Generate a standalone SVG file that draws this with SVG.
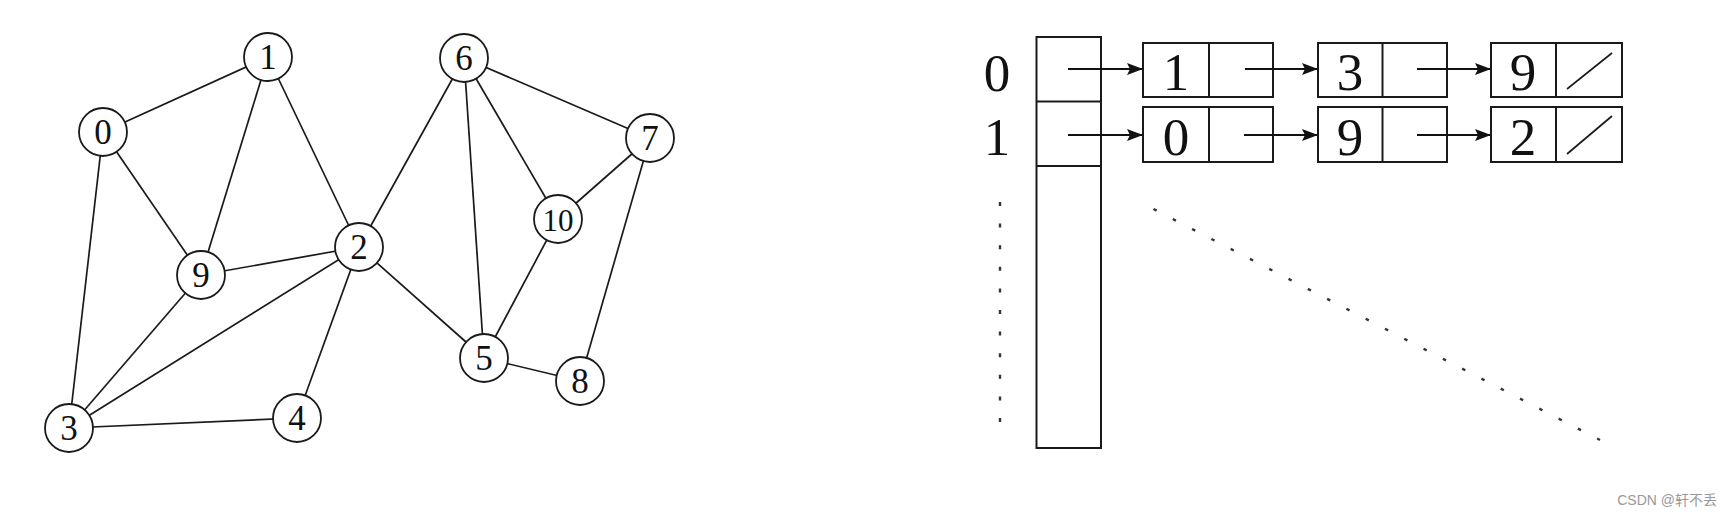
<svg xmlns="http://www.w3.org/2000/svg" width="1733" height="515" viewBox="0 0 1733 515">
<style>
.edge{stroke:#1a1a1a;stroke-width:1.7;fill:none}
.node circle{fill:#fff;stroke:#1a1a1a;stroke-width:1.8}
.node text{font-family:"Liberation Serif","DejaVu Serif",serif;font-size:35px;text-anchor:middle;fill:#111}
.box{fill:#fff;stroke:#1a1a1a;stroke-width:2}
.big{font-family:"Liberation Serif","DejaVu Serif",serif;font-size:53px;text-anchor:middle;fill:#111}
.arr{stroke:#111;stroke-width:2;fill:none}
.dot{stroke:#333;stroke-width:2.4;fill:none}
</style>
<defs>
<marker id="ah" markerUnits="userSpaceOnUse" markerWidth="16" markerHeight="12" refX="15" refY="6" orient="auto">
<path d="M0,0 L16,6 L0,12 L3,6 Z" fill="#111"/>
</marker>
</defs>
<rect width="1733" height="515" fill="#fff"/>
<g id="edges">
<line class="edge" x1="103" y1="132" x2="268" y2="57"/>
<line class="edge" x1="268" y1="57" x2="201" y2="275"/>
<line class="edge" x1="268" y1="57" x2="359" y2="247"/>
<line class="edge" x1="103" y1="132" x2="201" y2="275"/>
<line class="edge" x1="103" y1="132" x2="69" y2="428"/>
<line class="edge" x1="201" y1="275" x2="359" y2="247"/>
<line class="edge" x1="201" y1="275" x2="69" y2="428"/>
<line class="edge" x1="359" y1="247" x2="69" y2="428"/>
<line class="edge" x1="359" y1="247" x2="297" y2="418"/>
<line class="edge" x1="69" y1="428" x2="297" y2="418"/>
<line class="edge" x1="359" y1="247" x2="464" y2="58"/>
<line class="edge" x1="359" y1="247" x2="484" y2="358"/>
<line class="edge" x1="464" y1="58" x2="484" y2="358"/>
<line class="edge" x1="464" y1="58" x2="558" y2="219"/>
<line class="edge" x1="464" y1="58" x2="650" y2="138"/>
<line class="edge" x1="650" y1="138" x2="558" y2="219"/>
<line class="edge" x1="558" y1="219" x2="484" y2="358"/>
<line class="edge" x1="650" y1="138" x2="580" y2="381"/>
<line class="edge" x1="484" y1="358" x2="580" y2="381"/>
</g>
<g id="n0" class="node"><circle cx="103" cy="132" r="24"/><text x="103" y="144">0</text></g>
<g id="n1" class="node"><circle cx="268" cy="57" r="24"/><text x="268" y="69">1</text></g>
<g id="n2" class="node"><circle cx="359" cy="247" r="24"/><text x="359" y="259">2</text></g>
<g id="n3" class="node"><circle cx="69" cy="428" r="24"/><text x="69" y="440">3</text></g>
<g id="n4" class="node"><circle cx="297" cy="418" r="24"/><text x="297" y="430">4</text></g>
<g id="n5" class="node"><circle cx="484" cy="358" r="24"/><text x="484" y="370">5</text></g>
<g id="n6" class="node"><circle cx="464" cy="58" r="24"/><text x="464" y="70">6</text></g>
<g id="n7" class="node"><circle cx="650" cy="138" r="24"/><text x="650" y="150">7</text></g>
<g id="n8" class="node"><circle cx="580" cy="381" r="24"/><text x="580" y="393">8</text></g>
<g id="n9" class="node"><circle cx="201" cy="275" r="24"/><text x="201" y="287">9</text></g>
<g id="n10" class="node"><circle cx="558" cy="219" r="24"/><text x="558" y="231" style="font-size:31px">10</text></g>

<g id="labels">
<text class="big" x="997" y="91">0</text>
<text class="big" x="997" y="155">1</text>
</g>
<g id="array">
<rect class="box" x="1036.5" y="37" width="64.5" height="411"/>
<line class="edge" style="stroke-width:2" x1="1036.5" y1="101.5" x2="1101" y2="101.5"/>
<line class="edge" style="stroke-width:2" x1="1036.5" y1="166" x2="1101" y2="166"/>
</g>
<g id="l0a"><rect class="box" x="1143" y="43" width="130" height="54"/><line class="edge" style="stroke-width:2" x1="1209" y1="43" x2="1209" y2="97"/><text class="big" x="1176" y="90">1</text></g>
<g id="l0b"><rect class="box" x="1318" y="43" width="129" height="54"/><line class="edge" style="stroke-width:2" x1="1382.5" y1="43" x2="1382.5" y2="97"/><text class="big" x="1350" y="90">3</text></g>
<g id="l0c"><rect class="box" x="1491" y="43" width="131" height="54"/><line class="edge" style="stroke-width:2" x1="1556" y1="43" x2="1556" y2="97"/><text class="big" x="1523" y="90">9</text><line class="edge" x1="1567" y1="89" x2="1612" y2="53"/></g>
<g id="l1a"><rect class="box" x="1143" y="107" width="130" height="55"/><line class="edge" style="stroke-width:2" x1="1209" y1="107" x2="1209" y2="162"/><text class="big" x="1176" y="155">0</text></g>
<g id="l1b"><rect class="box" x="1318" y="107" width="129" height="55"/><line class="edge" style="stroke-width:2" x1="1382.5" y1="107" x2="1382.5" y2="162"/><text class="big" x="1350" y="155">9</text></g>
<g id="l1c"><rect class="box" x="1491" y="107" width="131" height="55"/><line class="edge" style="stroke-width:2" x1="1556" y1="107" x2="1556" y2="162"/><text class="big" x="1523" y="155">2</text><line class="edge" x1="1567" y1="154" x2="1612" y2="116"/></g>
<g id="arrows">
<line class="arr" x1="1068" y1="69" x2="1142" y2="69" marker-end="url(#ah)"/>
<line class="arr" x1="1245" y1="69" x2="1317" y2="69" marker-end="url(#ah)"/>
<line class="arr" x1="1417" y1="69" x2="1490" y2="69" marker-end="url(#ah)"/>
<line class="arr" x1="1068" y1="135" x2="1142" y2="135" marker-end="url(#ah)"/>
<line class="arr" x1="1244" y1="135" x2="1317" y2="135" marker-end="url(#ah)"/>
<line class="arr" x1="1417" y1="135" x2="1490" y2="135" marker-end="url(#ah)"/>
</g>
<g id="dots">
<line class="dot" x1="1000" y1="202" x2="1000" y2="422" stroke-dasharray="4 17.6"/>
<line class="dot" x1="1153.5" y1="209" x2="1600" y2="440" stroke-dasharray="3.5 18.22"/>
</g>
<text x="1717" y="505" text-anchor="end" style="font-family:'Liberation Sans','Noto Sans CJK SC',sans-serif;font-size:14px;fill:#999">CSDN @轩不丢</text>
</svg>
